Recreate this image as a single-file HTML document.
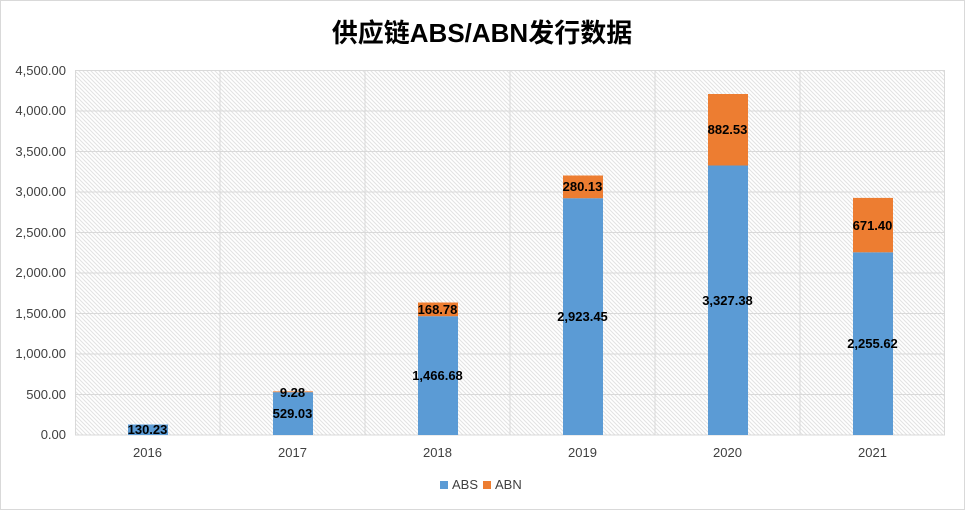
<!DOCTYPE html>
<html><head><meta charset="utf-8"><style>
body{margin:0;background:#fff}
svg{display:block;font-family:"Liberation Sans","Noto Sans CJK SC",sans-serif}
</style></head><body>
<svg width="965" height="510" viewBox="0 0 965 510" xmlns="http://www.w3.org/2000/svg">
<defs>
<pattern id="h" width="4" height="4" patternUnits="userSpaceOnUse">
<rect width="4" height="4" fill="#fff"/>
<path d="M-1,-1 L5,5 M-1,3 L1,5 M3,-1 L5,1" stroke="#e2e2e2" stroke-width="1"/>
</pattern>
</defs>
<rect x="0.5" y="0.5" width="964" height="509" fill="#fff" stroke="#d9d9d9"/>
<text x="482" y="42" text-anchor="middle" font-size="26" font-weight="bold" fill="#000">供应链ABS/ABN发行数据</text>
<rect x="75" y="70.5" width="870" height="364.5" fill="url(#h)"/>
<g stroke="#d9d9d9" stroke-width="1">
<line x1="75" x2="945" y1="70.5" y2="70.5"/><line x1="75" x2="945" y1="111" y2="111"/>
<line x1="75" x2="945" y1="151.5" y2="151.5"/><line x1="75" x2="945" y1="192" y2="192"/>
<line x1="75" x2="945" y1="232.5" y2="232.5"/><line x1="75" x2="945" y1="273" y2="273"/>
<line x1="75" x2="945" y1="313.5" y2="313.5"/><line x1="75" x2="945" y1="354" y2="354"/>
<line x1="75" x2="945" y1="394.5" y2="394.5"/><line x1="75" x2="945" y1="435" y2="435"/>
<line x1="75.5" x2="75.5" y1="70" y2="435"/><line x1="220" x2="220" y1="70" y2="435"/>
<line x1="365" x2="365" y1="70" y2="435"/><line x1="510" x2="510" y1="70" y2="435"/>
<line x1="655" x2="655" y1="70" y2="435"/><line x1="800" x2="800" y1="70" y2="435"/>
<line x1="944.5" x2="944.5" y1="70" y2="435"/>
</g>
<g font-size="13" fill="#404040" text-anchor="end">
<text x="66" y="75">4,500.00</text><text x="66" y="115">4,000.00</text>
<text x="66" y="156">3,500.00</text><text x="66" y="196">3,000.00</text>
<text x="66" y="237">2,500.00</text><text x="66" y="277">2,000.00</text>
<text x="66" y="318">1,500.00</text><text x="66" y="358">1,000.00</text>
<text x="66" y="399">500.00</text><text x="66" y="439">0.00</text>
</g>
<g font-size="13" fill="#404040" text-anchor="middle">
<text x="147.5" y="457">2016</text><text x="292.5" y="457">2017</text>
<text x="437.5" y="457">2018</text><text x="582.5" y="457">2019</text>
<text x="727.5" y="457">2020</text><text x="872.5" y="457">2021</text>
</g>
<g fill="#5b9bd5">
<rect x="128" y="424.5" width="40" height="10.5"/>
<rect x="273" y="392.1" width="40" height="42.9"/>
<rect x="418" y="316.2" width="40" height="118.8"/>
<rect x="563" y="198.2" width="40" height="236.8"/>
<rect x="708" y="165.5" width="40" height="269.5"/>
<rect x="853" y="252.3" width="40" height="182.7"/>
</g>
<g fill="#ed7d31">
<rect x="273" y="391.4" width="40" height="0.8"/>
<rect x="418" y="302.5" width="40" height="13.7"/>
<rect x="563" y="175.5" width="40" height="22.7"/>
<rect x="708" y="94" width="40" height="71.5"/>
<rect x="853" y="197.9" width="40" height="54.4"/>
</g>
<g font-size="13" font-weight="bold" fill="#000" text-anchor="middle">
<text x="147.5" y="434">130.23</text>
<text x="292.5" y="418">529.03</text><text x="292.5" y="397">9.28</text>
<text x="437.5" y="380">1,466.68</text><text x="437.5" y="314">168.78</text>
<text x="582.5" y="321">2,923.45</text><text x="582.5" y="191">280.13</text>
<text x="727.5" y="305">3,327.38</text><text x="727.5" y="134">882.53</text>
<text x="872.5" y="348">2,255.62</text><text x="872.5" y="230">671.40</text>
</g>
<rect x="440" y="481" width="8" height="8" fill="#5b9bd5"/>
<text x="452" y="489" font-size="13" fill="#404040">ABS</text>
<rect x="483" y="481" width="8" height="8" fill="#ed7d31"/>
<text x="495" y="489" font-size="13" fill="#404040">ABN</text>
</svg>
</body></html>
